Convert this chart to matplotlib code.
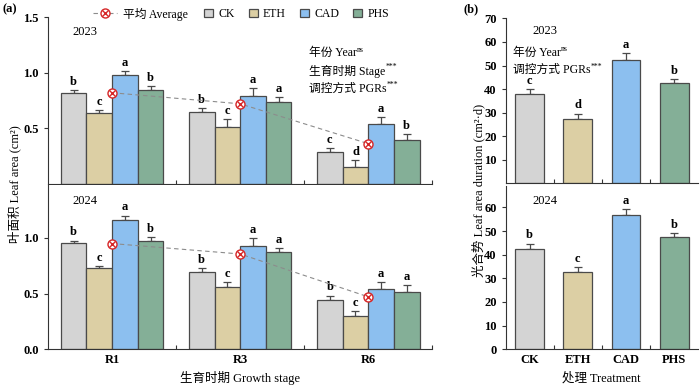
import matplotlib
matplotlib.use('Agg')
import matplotlib.pyplot as plt
import numpy as np
from matplotlib.lines import Line2D
from matplotlib.patches import Patch

plt.rcParams['font.family'] = ['Liberation Serif', 'Noto Sans CJK SC']

stages = ['R1', 'R3', 'R6']
treatments = ['CK', 'ETH', 'CAD', 'PHS']
colors = ['#d4d4d4', '#dccfa4', '#8cbfef', '#84af97']
edge = '#4a4a4a'

# leaf area, rows = CK, ETH, CAD, PHS ; cols = R1, R3, R6
la_2023 = [[0.82, 0.65, 0.287], [0.64, 0.515, 0.15], [0.98, 0.795, 0.54], [0.845, 0.74, 0.39]]
la_2023_err = [[0.025, 0.035, 0.03], [0.025, 0.07, 0.058], [0.04, 0.07, 0.063], [0.035, 0.045, 0.06]]
la_2023_sig = [['b', 'b', 'c'], ['c', 'c', 'd'], ['a', 'a', 'a'], ['b', 'a', 'b']]
la_2023_avg = [0.82, 0.72, 0.36]

la_2024 = [[0.952, 0.69, 0.44], [0.727, 0.556, 0.297], [1.16, 0.93, 0.543], [0.976, 0.87, 0.516]]
la_2024_err = [[0.025, 0.036, 0.042], [0.018, 0.048, 0.048], [0.042, 0.072, 0.058], [0.036, 0.036, 0.057]]
la_2024_sig = [['b', 'b', 'b'], ['c', 'c', 'c'], ['a', 'a', 'a'], ['b', 'a', 'a']]
la_2024_avg = [0.95, 0.856, 0.47]

# leaf area duration
lad_2023 = [37.9, 27.1, 52.2, 42.4]
lad_2023_err = [2.0, 2.5, 3.0, 1.7]
lad_2023_sig = ['c', 'd', 'a', 'b']
lad_2024 = [42.2, 32.5, 56.6, 47.3]
lad_2024_err = [2.5, 2.1, 2.5, 2.0]
lad_2024_sig = ['b', 'c', 'a', 'b']

red = '#d62728'


def style(ax, minor):
    for s in ['top', 'right']:
        ax.spines[s].set_visible(False)
    for s in ['left', 'bottom']:
        ax.spines[s].set_color('#333333')
        ax.spines[s].set_linewidth(0.8)
    ax.tick_params(axis='y', direction='out', length=3, width=0.8, colors='#333333', labelcolor='black')
    ax.tick_params(axis='x', which='major', length=0)
    ax.set_xticks(minor, minor=True)
    ax.tick_params(axis='x', which='minor', direction='in', length=3, width=0.8, colors='#333333')


def label(ax, x, y, s):
    ax.annotate(s, (x, y), xytext=(0, 1.5), textcoords='offset points',
                ha='center', va='bottom', fontsize=9, fontweight='bold')


def stat(ax, x, y, main, sup):
    t = ax.text(x, y, main, fontsize=8.5, ha='left', va='center')
    ax.annotate(sup, xy=(1.0, 0.8), xycoords=t, fontsize=5.5, ha='left', va='center')


def draw_la(ax, vals, errs, sigs, avg):
    x = np.arange(len(stages))
    for i in range(len(treatments)):
        pos = x + (i - 1.5) * 0.2
        ax.bar(pos, vals[i], 0.2, color=colors[i], edgecolor=edge, linewidth=0.9, zorder=2)
        ax.errorbar(pos, vals[i], yerr=[np.zeros(3), errs[i]], fmt='none', ecolor=edge,
                    elinewidth=0.9, capsize=3, capthick=0.9, zorder=1)
        for p, v, e, s in zip(pos, vals[i], errs[i], sigs[i]):
            label(ax, p, v + e, s)
    ax.plot(x, avg, ls=(0, (4, 3)), color='#8c8c8c', lw=0.8, zorder=3)
    ax.plot(x, avg, 'o', ms=6.5, mfc='white', mec=red, mew=1, zorder=4)
    ax.plot(x, avg, 'x', ms=4.5, color=red, mew=1, zorder=5)
    ax.set_xlim(-0.5, 2.5)
    style(ax, [0.5, 1.5, 2.5])


def draw_lad(ax, vals, errs, sigs):
    x = np.arange(len(treatments))
    ax.bar(x, vals, 0.6, color=colors, edgecolor=edge, linewidth=0.9, zorder=2)
    ax.errorbar(x, vals, yerr=[np.zeros(4), errs], fmt='none', ecolor=edge,
                elinewidth=0.9, capsize=3, capthick=0.9, zorder=1)
    for p, v, e, s in zip(x, vals, errs, sigs):
        label(ax, p, v + e, s)
    ax.set_xlim(-0.5, 3.5)
    style(ax, [0.5, 1.5, 2.5])


fig = plt.figure(figsize=(7, 3.88), dpi=100)
ax1 = fig.add_axes([0.0686, 0.527, 0.549, 0.428])
ax2 = fig.add_axes([0.0686, 0.1005, 0.549, 0.422])
ax3 = fig.add_axes([0.7224, 0.5276, 0.275, 0.425])
ax4 = fig.add_axes([0.7224, 0.0997, 0.275, 0.422])

draw_la(ax1, la_2023, la_2023_err, la_2023_sig, la_2023_avg)
draw_la(ax2, la_2024, la_2024_err, la_2024_sig, la_2024_avg)
draw_lad(ax3, lad_2023, lad_2023_err, lad_2023_sig)
draw_lad(ax4, lad_2024, lad_2024_err, lad_2024_sig)

ax1.set_ylim(0, 1.5)
ax1.set_yticks([0.5, 1.0, 1.5])
ax1.set_yticklabels(['0.5', '1.0', '1.5'], fontsize=9, fontweight='bold')
ax1.set_xticks(range(3))
ax1.set_xticklabels([])

ax2.set_ylim(0, 1.475)
ax2.set_yticks([0.0, 0.5, 1.0])
ax2.set_yticklabels(['0.0', '0.5', '1.0'], fontsize=9, fontweight='bold')
ax2.set_xticks(range(3))
ax2.set_xticklabels(stages, fontsize=9, fontweight='bold')

ax3.set_ylim(0, 70)
ax3.set_yticks(range(10, 71, 10))
ax3.set_yticklabels([str(v) for v in range(10, 71, 10)], fontsize=9, fontweight='bold')
ax3.set_xticks(range(4))
ax3.set_xticklabels([])

ax4.set_ylim(0, 69.2)
ax4.set_yticks(range(0, 61, 10))
ax4.set_yticklabels([str(v) for v in range(0, 61, 10)], fontsize=9, fontweight='bold')
ax4.set_xticks(range(4))
ax4.set_xticklabels(treatments, fontsize=9, fontweight='bold')

# year tags and statistics
ax1.text(-0.31, 1.37, '2023', fontsize=9, ha='left', va='center')
ax2.text(-0.31, 1.335, '2024', fontsize=9, ha='left', va='center')
stat(ax1, 1.54, 1.177, '年份 Year', 'ns')
stat(ax1, 1.54, 1.015, '生育时期 Stage', '***')
stat(ax1, 1.54, 0.857, '调控方式 PGRs', '***')

ax3.text(0.06, 64.6, '2023', fontsize=9, ha='left', va='center')
ax4.text(0.06, 62.7, '2024', fontsize=9, ha='left', va='center')
stat(ax3, -0.35, 55.4, '年份 Year', 'ns')
stat(ax3, -0.35, 48.0, '调控方式 PGRs', '***')

# axis titles
fig.text(0.02, 1 - 184 / 388, '叶面积 Leaf area (cm²)', rotation=90, ha='center', va='center', fontsize=9)
fig.text(478 / 700, 1 - 190 / 388, '光合势 Leaf area duration (cm²·d)', rotation=90, ha='center', va='center', fontsize=9)
fig.text(240 / 700, 1 - 378 / 388, '生育时期 Growth stage', ha='center', va='center', fontsize=9)
fig.text(601 / 700, 1 - 378 / 388, '处理 Treatment', ha='center', va='center', fontsize=9)
fig.text(0.003, 1 - 9.5 / 388, '(a)', ha='left', va='center', fontsize=9, fontweight='bold')
fig.text(463 / 700, 1 - 9.5 / 388, '(b)', ha='left', va='center', fontsize=9, fontweight='bold')

# legends
avg_line = Line2D([], [], ls=(0, (4, 3)), color='#8c8c8c', lw=0.8,
                  marker='o', ms=6.5, mfc='white', mec=red, mew=1)
avg_x = Line2D([], [], ls='none', marker='x', ms=4.5, color=red, mew=1)
fig.legend([(avg_line, avg_x)], ['平均 Average'], loc='center left',
           bbox_to_anchor=(93 / 700, 1 - 14 / 388), frameon=False, borderpad=0,
           borderaxespad=0, handlelength=2.0, handletextpad=0.5, fontsize=8.5)
patches = [Patch(facecolor=c, edgecolor=edge, linewidth=0.9) for c in colors]
fig.legend(patches, treatments, loc='center left', bbox_to_anchor=(204 / 700, 1 - 14 / 388),
           ncol=4, frameon=False, borderpad=0, borderaxespad=0, handlelength=0.75,
           handleheight=0.75, handletextpad=0.45, columnspacing=1.2, fontsize=8.5)

fig.savefig('out.png', dpi=100)
